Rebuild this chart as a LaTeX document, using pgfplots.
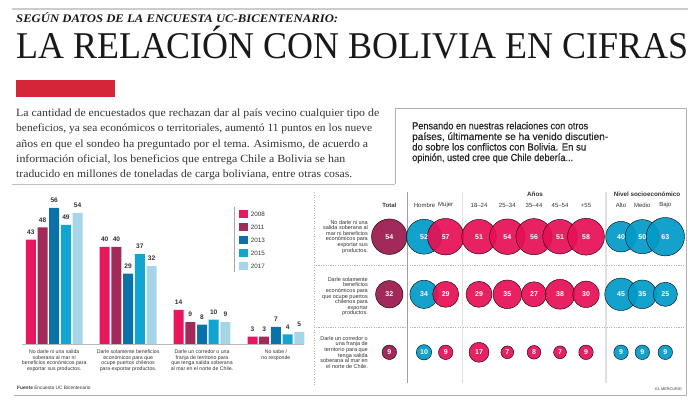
\documentclass[border=0pt]{standalone}
\usepackage{fontspec}
\setmainfont{Liberation Sans}
\newfontfamily\serif{Liberation Serif}
\newfontfamily\qfont[FakeBold=0.6]{Liberation Sans}
\usepackage{graphicx}
\usepackage{pgfplots}
\pgfplotsset{compat=1.18}
\definecolor{crim}{HTML}{E8175D}
\definecolor{wine}{HTML}{A12A5A}
\definecolor{dblue}{HTML}{0A72A8}
\definecolor{cyanb}{HTML}{12A5D1}
\definecolor{lblue}{HTML}{A6D5E8}
\definecolor{redbar}{HTML}{D42638}
\definecolor{bubcyan}{HTML}{009BC8}
\definecolor{bubcrim}{HTML}{E60F55}
\definecolor{txt}{HTML}{333333}
\newcommand\fs[2]{\fontsize{#1}{#2}\selectfont}
\pgfplotsset{sqleg/.style={legend image code/.code={\fill[##1,draw=none] (0pt,-3pt) rectangle (9pt,5pt);}}}
\newcommand\pl[3]{\node[anchor=base west,inner sep=0,text=txt] at (16,#1) {\resizebox{#2pt}{\height}{\serif\fs{11}{12}#3}};}
\newcommand\ql[3]{\node[anchor=base west,inner sep=0,text=black!85] at (412,#1) {\resizebox{#2pt}{\height}{\qfont\fs{10.2}{10.5}#3}};}

\pgfplotstableread{
x y v
389.3 166.3 54
389.3 108.7 32
389.3 50.7 9
}\totaltab
\pgfplotstableread{
x y v
424.0 166.3 52
424.0 108.7 34
424.0 50.7 10
621.0 166.3 40
621.0 108.7 45
621.0 50.7 9
642.3 166.3 50
642.3 108.7 35
642.3 50.7 9
665.3 166.3 63
665.3 108.7 25
665.3 50.7 9
}\cyantab
\pgfplotstableread{
x y v
445.7 166.3 57
445.7 108.7 29
445.7 50.7 9
479.0 166.3 51
479.0 108.7 29
479.0 50.7 17
507.3 166.3 54
507.3 108.7 35
507.3 50.7 7
534.0 166.3 56
534.0 108.7 27
534.0 50.7 8
560.0 166.3 51
560.0 108.7 38
560.0 50.7 7
586.0 166.3 58
586.0 108.7 30
586.0 50.7 9
}\crimtab

\begin{document}
\begin{tikzpicture}[x=1pt,y=1pt]
\path[use as bounding box] (0,0) rectangle (700,403);
\fill[white] (0,0) rectangle (700,403);
% header
\draw[gray!40, line width=1.6pt] (12,394) -- (688,394);
\node[anchor=base west,inner sep=0,text=black!90] at (16,380.3) {\resizebox{322pt}{\height}{\serif\bfseries\itshape\fs{11.6}{12}SEGÚN DATOS DE LA ENCUESTA UC-BICENTENARIO:}};
\node[anchor=base west,inner sep=0,text=black!90] at (16,344) {\resizebox{672pt}{\height}{\serif\fs{37.8}{40}LA RELACIÓN CON BOLIVIA EN CIFRAS}};
\fill[redbar] (16,306) rectangle (115,323);
\pl{286.3}{363}{La cantidad de encuestados que rechazan dar al país vecino cualquier tipo de}
\pl{271.0}{356}{beneficios, ya sea económicos o territoriales, aumentó 11 puntos en los nueve}
\pl{255.8}{352}{años en que el sondeo ha preguntado por el tema. Asimismo, de acuerdo a}
\pl{240.5}{329}{información oficial, los beneficios que entrega Chile a Bolivia se han}
\pl{225.3}{336}{traducido en millones de toneladas de carga boliviana, entre otras cosas.}
% frames
\draw[gray!50, line width=0.9pt] (12,219) -- (395,219);
\draw[gray!60, line width=0.8pt] (395,219) -- (395,294.7) -- (686,294.7) -- (686,7.5) -- (14,7.5);
\ql{273.7}{176}{Pensando en nuestras relaciones con otros}
\ql{263.0}{196}{países, últimamente se ha venido discutien-}
\ql{252.5}{174}{do sobre los conflictos con Bolivia. En su}
\ql{242.0}{161}{opinión, usted cree que Chile debería...}
% bar chart extras
\draw[gray!70, line width=0.6pt] (234,131) -- (234,196);
\node[anchor=base west,inner sep=0,text=txt] at (17,13) {\fs{4.8}{5}\textbf{Fuente} Encuesta UC Bicentenario};
% bubble chart decorations
\draw[gray!60, line width=0.6pt, dotted] (314,211) -- (314,18);
\draw[gray!60, line width=0.5pt, dash pattern=on 1.2pt off 1.2pt] (316,137.7) -- (684,137.7);
\draw[gray!60, line width=0.5pt, dash pattern=on 1.2pt off 1.2pt] (316,76) -- (684,76);
\draw[gray!75, line width=0.6pt] (407.3,211.3) -- (407.3,20);
\draw[gray!25, line width=1.1pt] (462.7,211.3) -- (462.7,20);
\draw[gray!25, line width=1.1pt] (606,211.3) -- (606,20);
\begin{scope}[every node/.style={inner sep=0,text=txt,font=\fs{6}{6}}]
\node[font=\bfseries\fs{6}{6}] at (389.3,198) {Total};
\node at (424.5,198) {Hombre};
\node at (445.7,198) {Mujer};
\node at (479,198) {18–24};
\node at (507.3,198) {25–34};
\node at (534,198) {35–44};
\node at (560,198) {45–54};
\node at (586,198) {+55};
\node at (621,198) {Alto};
\node at (642.3,198) {Medio};
\node at (665.3,198) {Bajo};
\node[font=\bfseries\fs{6.3}{6.3}] at (535,209) {Años};
\node[font=\bfseries\fs{6.3}{6.3}] at (647,209) {Nivel socioeconómico};
\end{scope}
\begin{scope}[every node/.style={inner sep=0,text=txt,font=\fs{5.5}{5.6},align=right,anchor=east}]
\node at (368,166.3) {No darle ni una\\salida soberana al\\mar ni beneficios\\económicos para\\exportar sus\\productos.};
\node at (368,106.3) {Darle solamente\\beneficios\\económicos para\\que ocupe puertos\\chilenos para\\exportar\\productos.};
\node at (368,50.7) {Darle un corredor o\\una franja de\\territorio para que\\tenga salida\\soberana al mar en\\el norte de Chile.};
\end{scope}
\node[anchor=base east,inner sep=0,text=txt] at (682,12.5) {\fs{3.8}{4}EL MERCURIO};

% ---------- bar chart ----------
\begin{axis}[at={(22pt,59pt)}, anchor=south west, scale only axis,
  width=282pt, height=145.8pt, xmin=-0.436, xmax=3.38, ymin=0, ymax=60,
  ybar=1.7pt, bar width=10pt, clip=false,
  axis x line=bottom, axis y line=none,
  x axis line style={-, draw=gray!55, line width=0.9pt},
  xtick={0,1,2,3}, major tick length=0pt,
  xticklabels={{No darle ni una salida\\soberana al mar ni\\beneficios económicos para\\exportar sus productos.},
               {Darle solamente beneficios\\económicos para que\\ocupe puertos chilenos\\para exportar productos.},
               {Darle un corredor o una\\franja de territorio para\\que tenga salida soberana\\al mar en el norte de Chile.},
               {No sabe /\\no responde}},
  xticklabel style={align=center, font=\fs{5.2}{5.75}, text=txt, inner sep=0pt, anchor=north, yshift=-5.5pt},
  /pgf/number format/assume math mode=true,
  nodes near coords,
  every node near coord/.append style={font=\bfseries\fs{6.6}{7}, text=txt, inner sep=0pt, anchor=south, yshift=5pt},
  legend style={at={(0.7695,0.919)}, anchor=north west, draw=none, fill=none, inner sep=0pt,
    font=\fs{6.3}{7}, row sep=4.3pt, nodes={inner sep=0.6pt, text=txt},
    /tikz/every odd column/.append style={column sep=2pt}},
  legend cell align=left]
\addplot[fill=crim, draw=none, sqleg] coordinates {(0,43) (1,40) (2,14) (3,3)};
\addplot[fill=wine, draw=none, sqleg] coordinates {(0,48) (1,40) (2,9) (3,3)};
\addplot[fill=dblue, draw=none, sqleg] coordinates {(0,56) (1,29) (2,8) (3,7)};
\addplot[fill=cyanb, draw=none, sqleg] coordinates {(0,49) (1,37) (2,10) (3,4)};
\addplot[fill=lblue, draw=none, sqleg] coordinates {(0,54) (1,32) (2,9) (3,5)};
\legend{2008,2011,2013,2015,2017}
\end{axis}

% ---------- bubble chart ----------
\begin{axis}[at={(314pt,10pt)}, anchor=south west, scale only axis,
  width=372pt, height=203pt, xmin=314, xmax=686, ymin=10, ymax=213,
  hide axis, clip=false,
  /pgf/number format/assume math mode=true]
\addplot[scatter, only marks, mark=*, point meta=explicit,
  scatter/use mapped color={draw=none, fill=wine},
  visualization depends on={2.42*sqrt(\thisrow{v}) \as \msize},
  scatter/@pre marker code/.append style={/tikz/mark size=\msize}]
  table[x=x, y=y, meta=v] {\totaltab};
\addplot[scatter, only marks, mark=*, point meta=explicit,
  scatter/use mapped color={draw=none, fill=bubcyan, fill opacity=0.92},
  visualization depends on={2.42*sqrt(\thisrow{v}) \as \msize},
  scatter/@pre marker code/.append style={/tikz/mark size=\msize}]
  table[x=x, y=y, meta=v] {\cyantab};
\addplot[scatter, only marks, mark=*, point meta=explicit,
  scatter/use mapped color={draw=none, fill=bubcrim, fill opacity=0.92},
  visualization depends on={2.42*sqrt(\thisrow{v}) \as \msize},
  scatter/@pre marker code/.append style={/tikz/mark size=\msize}]
  table[x=x, y=y, meta=v] {\crimtab};
\pgfplotsset{lbl/.style={draw=none, mark=none, point meta=explicit, nodes near coords,
  every node near coord/.append style={anchor=center, text=white, inner sep=0pt, yshift=0pt, font=\bfseries\fs{7}{7}}}}
\addplot[lbl] table[x=x, y=y, meta=v] {\totaltab};
\addplot[lbl] table[x=x, y=y, meta=v] {\cyantab};
\addplot[lbl] table[x=x, y=y, meta=v] {\crimtab};
\end{axis}
\end{tikzpicture}
\end{document}
